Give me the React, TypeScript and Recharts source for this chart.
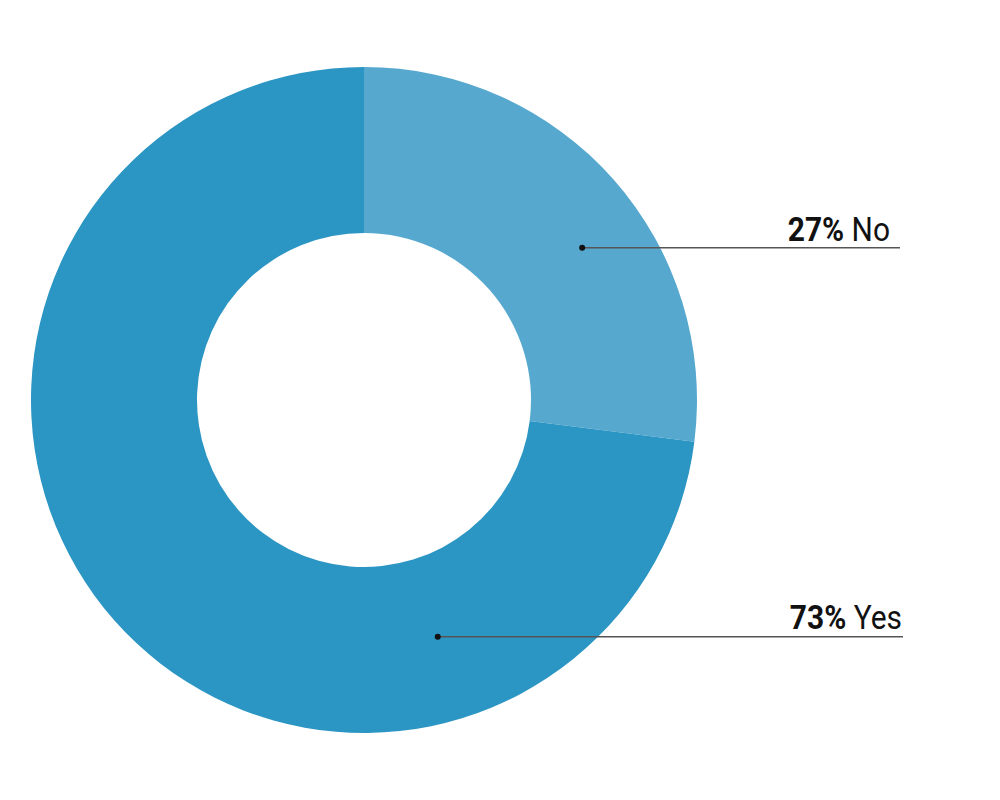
import React from "react";
import { PieChart, Pie, Cell } from "recharts";

const categories = ["No", "Yes"];
const values = [27, 73];
const colors = ["#56A8CF", "#2B95C3"];

const data = categories.map((name, i) => ({ name, value: values[i] }));

// label anchor geometry (angle in degrees, radius in px, line end x, text end x)
const anchors = [
  { angle: 34.9, r: 266, lineEnd: 900, textEnd: 890, textDy: -7 },
  { angle: -72.7, r: 248, lineEnd: 903, textEnd: 902, textDy: -8 },
];

const RAD = Math.PI / 180;

const renderLabel = (props: any) => {
  const { cx, cy, index, value, name } = props;
  const a = anchors[index];
  const x = cx + a.r * Math.cos(a.angle * RAD);
  const y = cy - a.r * Math.sin(a.angle * RAD);
  return (
    <g key={`lbl-${index}`}>
      <line x1={x} y1={y} x2={a.lineEnd} y2={y} stroke="#555" strokeWidth={1.5} />
      <circle cx={x} cy={y} r={3} fill="#111" />
      <text
        x={0}
        y={0}
        transform={`translate(${a.textEnd},${y + a.textDy}) scale(0.88,1)`}
        textAnchor="end"
        fill="#111"
        fontFamily="Roboto, 'Noto Sans', sans-serif"
        fontSize={34}
      >
        <tspan fontWeight={700}>{`${value}%`}</tspan>
        <tspan fontWeight={400}>{` ${name}`}</tspan>
      </text>
    </g>
  );
};

export default function App() {
  return (
    <div style={{ position: "absolute", left: 0, top: 0, width: 1000, height: 800, background: "#fff" }}>
      <PieChart width={1000} height={800} margin={{ top: 0, right: 0, bottom: 0, left: 0 }}>
        <Pie
          data={data}
          dataKey="value"
          nameKey="name"
          cx={364}
          cy={400}
          innerRadius={167}
          outerRadius={333}
          startAngle={90}
          endAngle={-270}
          stroke="none"
          label={renderLabel}
          labelLine={false}
          isAnimationActive={false}
        >
          {data.map((d, i) => (
            <Cell key={d.name} fill={colors[i]} />
          ))}
        </Pie>
      </PieChart>
    </div>
  );
}
